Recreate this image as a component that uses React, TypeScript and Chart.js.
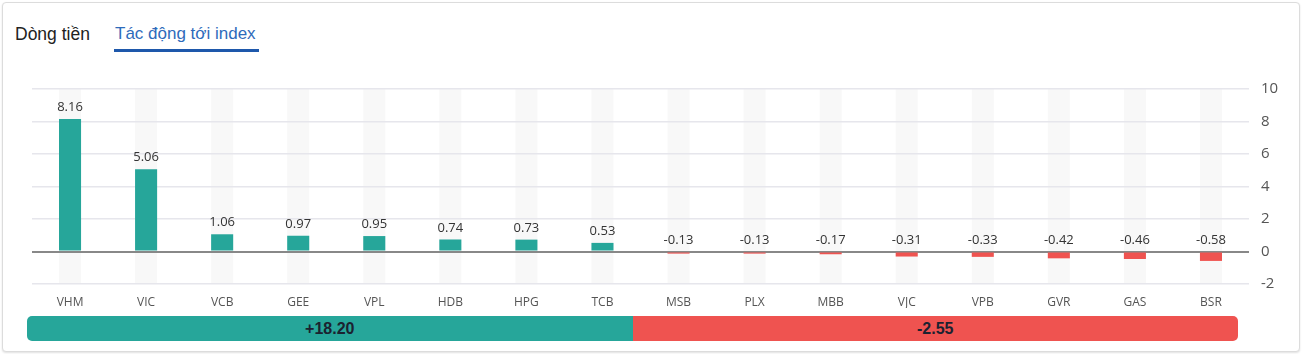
import React, { useEffect, useRef } from "react";
import { Chart, registerables } from "chart.js";

Chart.register(...registerables);

const tickers = ["VHM", "VIC", "VCB", "GEE", "VPL", "HDB", "HPG", "TCB", "MSB", "PLX", "MBB", "VJC", "VPB", "GVR", "GAS", "BSR"];
const impacts = [8.16, 5.06, 1.06, 0.97, 0.95, 0.74, 0.73, 0.53, -0.13, -0.13, -0.17, -0.31, -0.33, -0.42, -0.46, -0.58];
const yTicks = [-2, 0, 2, 4, 6, 8, 10];
const totalUp = "+18.20";
const totalDown = "-2.55";
const tabs = ["Dòng tiền", "Tác động tới index"];

const GREEN = "#26a69a";
const RED = "#ef5350";

const bandPlugin = {
  id: "bands",
  beforeDraw(chart: any) {
    const meta = chart.getDatasetMeta(0);
    const { ctx, chartArea } = chart;
    ctx.save();
    ctx.fillStyle = "#f8f8f8";
    meta.data.forEach((el: any) => {
      const w = el.width;
      ctx.fillRect(el.x - w / 2, chartArea.top, w, chartArea.bottom - chartArea.top);
    });
    ctx.restore();
  },
};

const valueLabelPlugin = {
  id: "valueLabels",
  afterDatasetsDraw(chart: any) {
    const meta = chart.getDatasetMeta(0);
    const yScale = chart.scales.y;
    const { ctx } = chart;
    ctx.save();
    ctx.font = "13px 'Open Sans', sans-serif";
    ctx.fillStyle = "#333";
    ctx.textAlign = "center";
    ctx.textBaseline = "bottom";
    meta.data.forEach((el: any, i: number) => {
      const v = impacts[i];
      const y = yScale.getPixelForValue(Math.max(v, 0)) - 5;
      ctx.fillText(v.toFixed(2), el.x, y);
    });
    ctx.restore();
  },
};

export default function App() {
  const canvasRef = useRef<HTMLCanvasElement | null>(null);

  useEffect(() => {
    if (!canvasRef.current) return;
    const chart = new Chart(canvasRef.current, {
      type: "bar",
      data: {
        labels: tickers,
        datasets: [
          {
            data: impacts,
            backgroundColor: impacts.map((v) => (v >= 0 ? GREEN : RED)),
            borderWidth: 0,
            categoryPercentage: 1,
            barPercentage: 0.29,
          },
        ],
      },
      options: {
        animation: false,
        responsive: false,
        maintainAspectRatio: false,
        layout: { padding: { left: 12, top: 29, right: 0, bottom: 12 } },
        plugins: { legend: { display: false }, tooltip: { enabled: false } },
        scales: {
          x: {
            grid: { display: false },
            border: { display: false },
            ticks: {
              color: "#555",
              font: { family: "'Open Sans', sans-serif", size: 12 },
              padding: 3,
              maxRotation: 0,
              autoSkip: false,
            },
            afterFit: (s: any) => {
              s.height = 24;
            },
          },
          y: {
            position: "right",
            min: -2,
            max: 10,
            afterBuildTicks: (s: any) => {
              s.ticks = yTicks.map((v) => ({ value: v }));
            },
            border: { display: false },
            grid: {
              drawTicks: false,
              color: (c: any) => (c.tick && c.tick.value === 0 ? "#888" : "#e6e6ec"),
              lineWidth: (c: any) => (c.tick && c.tick.value === 0 ? 2 : 1.5),
            },
            ticks: {
              color: "#555",
              font: { family: "'Open Sans', sans-serif", size: 15 },
              padding: 12,
            },
            afterFit: (s: any) => {
              s.width = 51;
            },
          },
        },
      },
      plugins: [bandPlugin, valueLabelPlugin],
    } as any);
    return () => chart.destroy();
  }, []);

  return (
    <div style={{ position: "absolute", left: 0, top: 0, width: 1302, height: 354, background: "#fff", overflow: "hidden" }}>
      <div
        style={{
          position: "absolute",
          left: 2,
          top: 2,
          width: 1298,
          height: 350,
          boxSizing: "border-box",
          border: "1px solid #dcdcdc",
          borderRadius: 4,
          boxShadow: "0 1px 2px rgba(0,0,0,0.12)",
          background: "#fff",
        }}
      />
      <div
        style={{
          position: "absolute",
          left: 15,
          top: 23,
          fontFamily: "'Liberation Sans', Arial, sans-serif",
          fontSize: 17.5,
          color: "#222",
          lineHeight: "22px",
          whiteSpace: "nowrap",
        }}
      >
        {tabs[0]}
      </div>
      <div
        style={{
          position: "absolute",
          left: 115,
          top: 23,
          fontFamily: "'Liberation Sans', Arial, sans-serif",
          fontSize: 17,
          color: "#2e6bbb",
          lineHeight: "22px",
          whiteSpace: "nowrap",
        }}
      >
        {tabs[1]}
      </div>
      <div style={{ position: "absolute", left: 114, top: 49, width: 145, height: 3, background: "#1e58ab" }} />
      <canvas
        ref={canvasRef}
        width={1280}
        height={260}
        style={{ position: "absolute", left: 20, top: 60, width: 1280, height: 260 }}
      />
      <div
        style={{
          position: "absolute",
          left: 27,
          top: 316,
          width: 1211,
          height: 25,
          display: "flex",
          borderRadius: 5,
          overflow: "hidden",
          fontFamily: "'Liberation Sans', Arial, sans-serif",
          fontWeight: "bold",
          fontSize: 16,
          color: "#1b2230",
          lineHeight: "25px",
        }}
      >
        <div style={{ flex: 1, background: GREEN, textAlign: "center" }}>{totalUp}</div>
        <div style={{ flex: 1, background: RED, textAlign: "center" }}>{totalDown}</div>
      </div>
    </div>
  );
}
